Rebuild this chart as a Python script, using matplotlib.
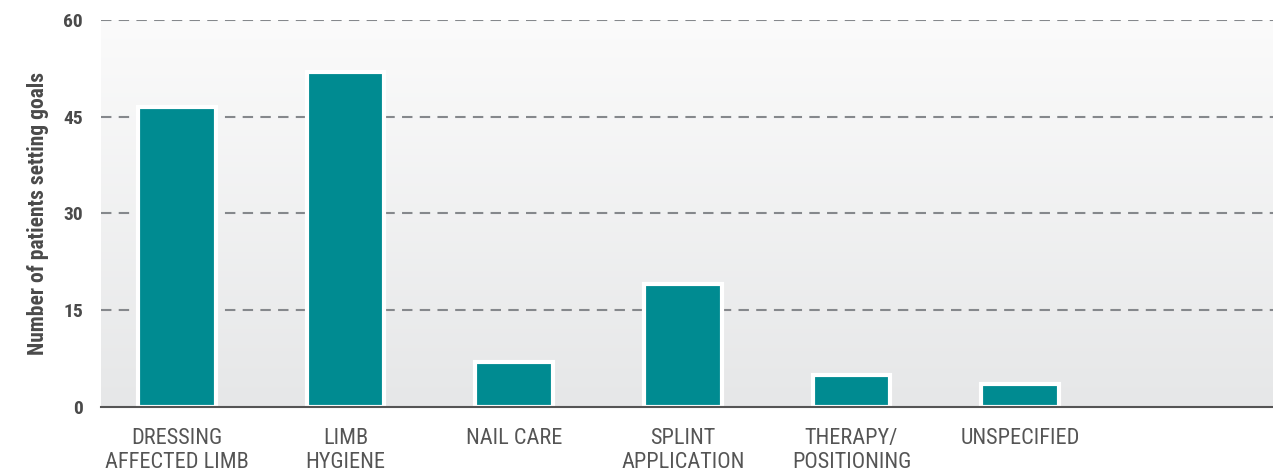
#Bar chart of goal categories set by patients
import numpy as np
import matplotlib.pyplot as plt

categories = ["DRESSING\nAFFECTED LIMB", "LIMB\nHYGIENE", "NAIL CARE",
              "SPLINT\nAPPLICATION", "THERAPY/\nPOSITIONING", "UNSPECIFIED"]
patients = [46.5, 52, 7, 19, 5, 3.5]
yticks = [0, 15, 30, 45, 60]

#condensed font, close to the original
plt.rcParams['font.family'] = ['Roboto Condensed', 'DejaVu Sans']

fig = plt.figure(figsize=(12.73, 4.75), dpi=100)
ax = fig.add_axes([101/1273, 68/475, 1 - 101/1273, 387/475])

#background gradient, light at the top and grey at the bottom
grad = np.linspace(0, 1, 256).reshape(-1, 1)
ax.imshow(grad, extent=[0, 1, 0, 1], transform=ax.transAxes, aspect='auto',
          cmap=plt.matplotlib.colors.LinearSegmentedColormap.from_list("bg", ["#e6e7e8", "#fbfbfb"]),
          origin='lower', zorder=0)

x = np.arange(len(categories))
ax.bar(x, patients, width=0.46, color="#008b91", edgecolor="white", linewidth=3, zorder=3)

ax.set_xlim(-0.451, 6.5)
ax.set_ylim(0, 60)
ax.set_yticks(yticks)
ax.set_yticklabels([str(t) for t in yticks], fontsize=14, fontweight='bold', color="#4a4a4a")
ax.set_xticks(x)
ax.set_xticklabels(categories, fontsize=16, color="#555555", linespacing=1.2)
ax.tick_params(axis='both', length=0)
ax.tick_params(axis='y', pad=13)
ax.tick_params(axis='x', pad=15)

for t in yticks[1:]:
    ax.axhline(t, color="#85888c", linestyle=(0, (5, 3.5)), linewidth=1.5, zorder=1)

for s in ['top', 'right', 'left']:
    ax.spines[s].set_visible(False)
ax.spines['bottom'].set_color("#555555")
ax.spines['bottom'].set_linewidth(1.5)
ax.spines['bottom'].set_zorder(4)

ax.set_ylabel("Number of patients setting goals", fontsize=15.5, fontweight='bold', color="#4a4a4a", labelpad=10)

fig.savefig("out.png", dpi=100)
